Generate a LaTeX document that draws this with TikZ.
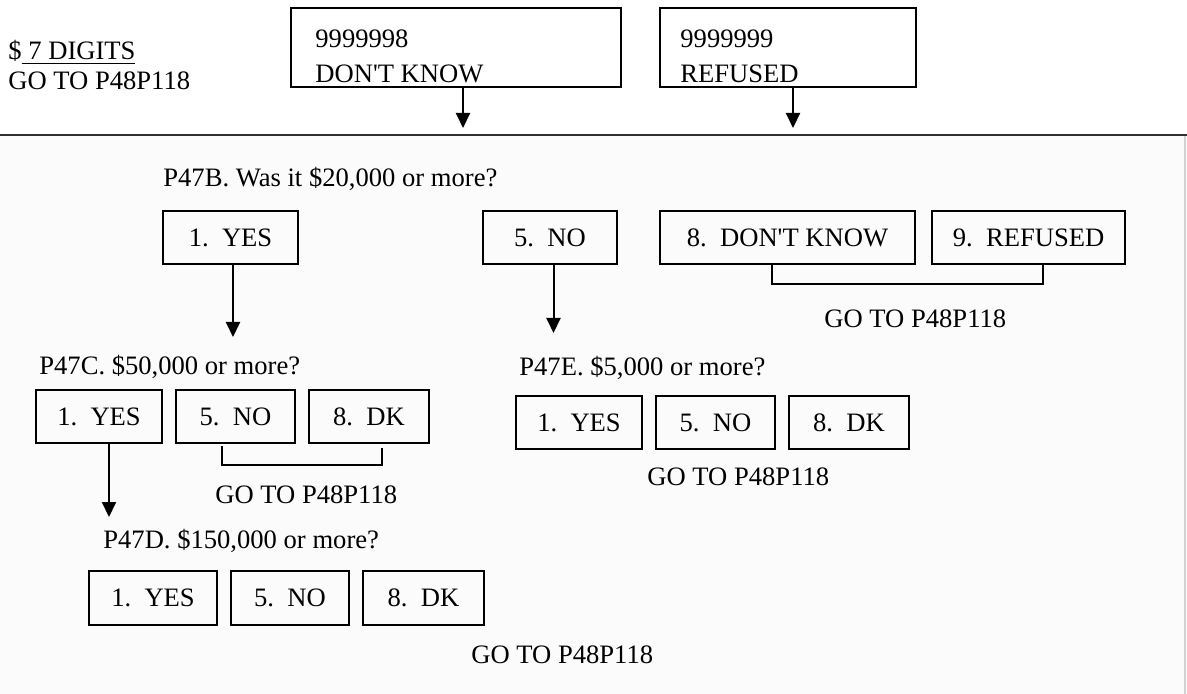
\documentclass[tikz,border=0pt]{standalone}
\usepackage{fontspec}
\setmainfont{Liberation Serif}
\usetikzlibrary{
  arrows.meta,
  positioning
}
\definecolor{qRule}{HTML}{303030}
\definecolor{qEdge}{HTML}{D2D2D2}
\definecolor{qPanel}{HTML}{FBFBFB}
\newcommand{\qfont}{\fontsize{13.3}{17.5}\selectfont}
\frenchspacing
\tikzset{
  qnode/.style={
    draw, line width=1pt, outer sep=0pt, inner sep=0pt,
    minimum height=26.5pt, align=center, font=\qfont
  },
  qbox/.style={qnode, minimum width=#1},
  qbox/.default=60pt,
  qtext/.style={anchor=base west, inner sep=0pt, font=\qfont},
  qarrow/.style={-{Triangle[length=7.5pt, width=7pt]}, line width=1pt},
  qbracket/.style={line width=1pt}
}

\begin{document}
\begin{tikzpicture}[x=0.5pt, y=-0.5pt, node distance=7pt]
  \useasboundingbox (0,0) rectangle (1187,694);
  % answer panel
  \fill[qPanel] (0,135) rectangle (1187,694);
  \draw[qEdge, line width=0.8pt] (1185,135) -- (1185,694);
  \draw[qRule, line width=1.2pt] (0,135) -- (1187,135);

  % amount and codes
  \node[qtext] (amt) at (8,60) {\$\underline{\ 7 DIGITS}};
  \node[qtext] (amtgo) at (8,90) {GO TO P48P118};
  \node[qnode, minimum width=165pt, minimum height=39.5pt] (dk) at (456,47.5) {};
  \node[qnode, minimum width=128pt, minimum height=39.5pt, right=19.5pt of dk] (rf) {};
  \node[qtext, anchor=north west, align=left] (dktxt) at (315,29) {9999998\\DON\textquotesingle T KNOW};
  \node[qtext, anchor=north west, align=left] (rftxt) at (680,29) {9999999\\REFUSED};
  \coordinate (dkend) at (463,128);
  \coordinate (rfend) at (793,128);
  \draw[qarrow] (dk.south -| dkend) -- (dkend);
  \draw[qarrow] (rf.south -| rfend) -- (rfend);

  % P47B
  \node[qtext] (qb) at (163,187) {P47B. Was it \$20,000 or more?};
  \node[qbox=67.5pt] (byes) at (230.5,237.5) {1.~~YES};
  \node[qbox=67pt, right=92.5pt of byes] (bno) {5.~~NO};
  \node[qbox=127.5pt, right=21.5pt of bno] (bdk) {8.~~DON\textquotesingle T KNOW};
  \node[qbox=96.5pt, right=8.5pt of bdk] (bref) {9.~~REFUSED};
  \draw[qbracket] ([xshift=-7.75pt]bdk.south) -- ++(0,20) -| ([xshift=7.25pt]bref.south);
  \node[qtext] (bgo) at (824,328) {GO TO P48P118};
  \coordinate (byesend) at (233,337);
  \coordinate (bnoend) at (553.5,333);
  \draw[qarrow] (byes.south -| byesend) -- (byesend);
  \draw[qarrow] (bno.south -| bnoend) -- (bnoend);

  % P47C
  \node[qtext] (qc) at (39,375) {P47C. \$50,000 or more?};
  \node[qbox=63pt] (cyes) at (99,416.5) {1.~~YES};
  \node[qbox=59.5pt, right=of cyes] (cno) {5.~~NO};
  \node[qbox=60pt, right=of cno] (cdk) {8.~~DK};
  \draw[qbracket] ([xshift=-6.75pt, yshift=-1.5pt]cno.south) -- ++(0,19) -| ([xshift=6.5pt, yshift=-2.5pt]cdk.south);
  \node[qtext] (cgo) at (215,503) {GO TO P48P118};
  \coordinate (cyesend) at (109,517);
  \draw[qarrow] (cyes.south -| cyesend) -- (cyesend);

  % P47D
  \node[qtext] (qd) at (103,548) {P47D. \$150,000 or more?};
  \node[qbox=64pt, minimum height=27pt] (dyes) at (153,598) {1.~~YES};
  \node[qbox=59pt, minimum height=27pt, right=of dyes] (dno) {5.~~NO};
  \node[qbox=60.5pt, minimum height=27pt, right=of dno] (ddk) {8.~~DK};
  \node[qtext] (dgo) at (471,663) {GO TO P48P118};

  % P47E
  \node[qtext] (qe) at (519,376) {P47E. \$5,000 or more?};
  \node[qbox=63pt] (eyes) at (579,422.5) {1.~~YES};
  \node[qbox=59.5pt, right=of eyes] (eno) {5.~~NO};
  \node[qbox=60pt, right=of eno] (edk) {8.~~DK};
  \node[qtext] (ego) at (647,486) {GO TO P48P118};
\end{tikzpicture}
\end{document}
